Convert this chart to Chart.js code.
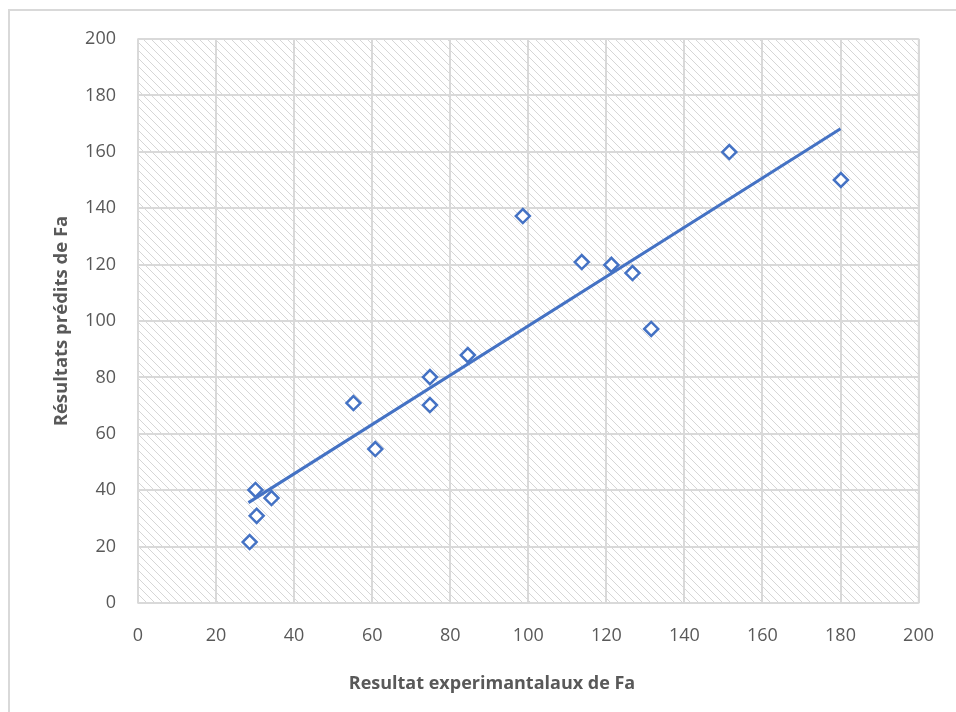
<!DOCTYPE html>
<html>
<head>
<meta charset="utf-8">
<script src="https://cdn.jsdelivr.net/npm/chart.js@4/dist/chart.umd.min.js"></script>
<style>
  html, body { margin: 0; padding: 0; background: #fff; }
  #wrap { width: 956px; height: 712px; position: relative; }
</style>
</head>
<body>
<div id="wrap"><canvas id="scatter"></canvas></div>
<script>
// values
const expX = [28.6, 30.1, 30.4, 34.2, 55.2, 60.8, 74.8, 74.8, 84.5, 98.6, 113.7, 121.3, 126.7, 131.5, 151.5, 180.1];
const predY = [21.6, 40.1, 30.9, 37.2, 70.9, 54.6, 80.1, 70.2, 87.9, 137.2, 120.9, 119.9, 117.0, 97.2, 159.9, 150.0];
// trend line end points
const trendX = [28.3, 180.0];
const trendY = [35.6, 168.2];
const axisTicks = [0, 20, 40, 60, 80, 100, 120, 140, 160, 180, 200];
const xTitle = 'Resultat experimantalaux de Fa';
const yTitle = 'Résultats prédits de Fa';

const blue = '#4472c4';
const gridGrey = '#d9d9d9';
const textGrey = '#595959';
const fontFam = "'Open Sans', 'Liberation Sans', sans-serif";

// diagonal hatch for the plot area
function makeHatch(ctx) {
  const tile = document.createElement('canvas');
  tile.width = 8; tile.height = 8;
  const t = tile.getContext('2d');
  t.fillStyle = '#ffffff';
  t.fillRect(0, 0, 8, 8);
  t.fillStyle = '#d6d6d6';
  for (let i = 0; i < 8; i += 2) {
    t.fillRect(i, i, 1, 1);
    t.fillRect((i + 1) % 8, i + 1, 1, 1);
  }
  return ctx.createPattern(tile, 'repeat');
}

const frame = {
  id: 'frame',
  beforeDraw(chart) {
    const c = chart.ctx;
    c.save();
    c.fillStyle = '#fff';
    c.fillRect(0, 0, chart.width, chart.height);
    c.strokeStyle = gridGrey;
    c.lineWidth = 2;
    c.strokeRect(9, 10, chart.width + 20, chart.height + 20);
    const a = chart.chartArea;
    c.fillStyle = makeHatch(c);
    c.fillRect(a.left, a.top, a.right - a.left, a.bottom - a.top);
    c.strokeStyle = gridGrey;
    c.lineWidth = 1.5;
    c.strokeRect(a.left, a.top, a.right - a.left, a.bottom - a.top);
    c.restore();
  },
  afterDraw(chart) {
    // x title is centred on the whole chart box, not on the plot area
    const c = chart.ctx;
    c.save();
    c.fillStyle = textGrey;
    c.font = 'bold 18px ' + fontFam;
    c.textAlign = 'center';
    c.textBaseline = 'middle';
    c.fillText(xTitle, 492, 684);
    c.restore();
  }
};

new Chart(document.getElementById('scatter'), {
  type: 'scatter',
  data: {
    datasets: [
      {
        label: 'Fa',
        data: expX.map((x, i) => ({ x, y: predY[i] })),
        pointStyle: 'rectRot',
        pointRadius: 7,
        pointBorderWidth: 2.5,
        pointBorderColor: blue,
        pointBackgroundColor: '#fff',
        order: 1
      },
      {
        label: 'Tendance',
        type: 'line',
        data: trendX.map((x, i) => ({ x, y: trendY[i] })),
        borderColor: blue,
        borderWidth: 3,
        pointRadius: 0,
        fill: false,
        order: 2
      }
    ]
  },
  options: {
    responsive: true,
    maintainAspectRatio: false,
    animation: false,
    layout: { padding: { left: 51, right: 33, top: 39, bottom: 0 } },
    plugins: { legend: { display: false }, tooltip: { enabled: false } },
    scales: {
      x: {
        type: 'linear', min: 0, max: 200,
        afterBuildTicks: s => { s.ticks = axisTicks.map(v => ({ value: v })); },
        afterFit: s => { s.height = 109; },
        grid: { color: gridGrey, lineWidth: 2, drawTicks: false },
        border: { display: false },
        ticks: { color: textGrey, font: { family: fontFam, size: 18 }, padding: 22 },
        title: { display: false }
      },
      y: {
        type: 'linear', min: 0, max: 200,
        afterBuildTicks: s => { s.ticks = axisTicks.map(v => ({ value: v })); },
        afterFit: s => { s.width = 87; },
        grid: { color: gridGrey, lineWidth: 2, drawTicks: false },
        border: { display: false },
        ticks: { color: textGrey, font: { family: fontFam, size: 18 }, padding: 22 },
        title: { display: true, text: yTitle, color: textGrey,
                 font: { family: fontFam, size: 18.5, weight: 'bold' }, padding: { top: 0, bottom: 0 } }
      }
    }
  },
  plugins: [frame]
});
</script>
</body>
</html>
